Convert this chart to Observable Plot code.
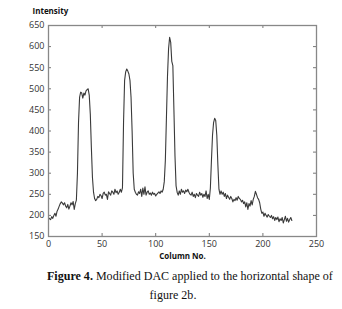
<!DOCTYPE html>
<html><head><meta charset="utf-8">
<script src="https://cdn.jsdelivr.net/npm/d3@7"></script>
<script src="https://cdn.jsdelivr.net/npm/@observablehq/plot@0.6"></script>
<style>
body{margin:0;background:#fff;width:342px;height:309px;overflow:hidden;position:relative}
#cap{position:absolute;left:0;top:267px;width:342px;font-family:"Liberation Serif",serif;font-size:13px;color:#111;line-height:19px}
#cap .l1{position:absolute;left:47px;top:0;white-space:nowrap}
#cap .l2{position:absolute;left:0;width:346px;top:19px;text-align:center;white-space:nowrap}
</style></head>
<body>
<div id="chart"></div>
<div id="cap"><div class="l1" id="l1"><b>Figure 4.</b> Modified DAC applied to the horizontal shape of</div><div class="l2" id="l2">figure 2b.</div></div>
<script>
const intensity = [
195,192,190,197,193,200,205,198,210,215,222,
228,232,229,225,230,222,218,226,215,222,230,225,233,214,228,236,
300,420,480,492,490,478,490,485,495,498,500,485,440,360,290,255,240,235,
238,245,242,250,247,240,252,255,248,250,238,256,252,248,258,255,250,262,254,258,250,255,262,255,265,
420,520,540,547,542,535,520,480,400,300,262,
255,250,248,256,252,262,245,265,250,268,248,255,258,250,253,248,255,250,252,246,250,253,256,252,258,255,262,280,
330,430,530,595,622,610,565,555,450,340,270,
255,248,258,250,262,255,258,252,260,256,262,255,250,248,255,245,250,242,252,248,245,255,248,252,243,250,245,258,240,250,238,265,
330,390,420,430,425,390,320,262,250,
258,250,255,245,252,240,248,243,238,245,240,232,238,235,242,236,245,240,238,232,236,228,232,220,230,214,228,222,235,225,238,245,257,250,242,238,230,215,205,
208,198,205,200,196,202,198,195,200,192,197,188,195,190,196,185,192,188,195,182,190,198,186,193,184,190,195,188
];
const columns = intensity.map((_, i) => i);
const xTicks = [0, 50, 100, 150, 200, 250];
const yTicks = [150, 200, 250, 300, 350, 400, 450, 500, 550, 600, 650];
const data = columns.map((c, i) => ({col: c, val: intensity[i]}));

const W = 342, H = 262, mL = 48, mR = 26, mT = 25, mB = 26;
const fh = H - mT - mB, fw = W - mL - mR;
const tk = 3;
const chart = Plot.plot({
  width: W, height: H,
  marginLeft: mL, marginRight: mR, marginTop: mT, marginBottom: mB,
  style: {fontFamily: "'Open Sans', 'DejaVu Sans', sans-serif", fontSize: "9px", color: "#333", background: "#fff"},
  x: {domain: [0, 250]},
  y: {domain: [150, 650]},
  marks: [
    Plot.axisX(xTicks, {tickSize: 0, tickPadding: 4, fontSize: 9, fill: "#333", label: null}),
    Plot.axisY(yTicks, {tickSize: 0, tickPadding: 4, fontSize: 9, fill: "#333", label: null}),
    Plot.tickX(xTicks, {x: d => d, insetBottom: fh - tk, stroke: "#777"}),
    Plot.tickX(xTicks, {x: d => d, insetTop: fh - tk, stroke: "#777"}),
    Plot.tickY(yTicks, {y: d => d, insetRight: fw - tk, stroke: "#777"}),
    Plot.tickY(yTicks, {y: d => d, insetLeft: fw - tk, stroke: "#777"}),
    Plot.line(data, {x: "col", y: "val", stroke: "#3a3a3a", strokeWidth: 1.1}),
    Plot.frame({stroke: "#888", strokeWidth: 1.3}),
    Plot.text(["Intensity"], {frameAnchor: "top-left", dx: -16, dy: -17, textAnchor: "start", fontWeight: "bold", fontSize: 8, fill: "#111"}),
    Plot.text(["Column No."], {frameAnchor: "bottom", dy: 22, fontWeight: "bold", fontSize: 8, fill: "#111"})
  ]
});
document.getElementById("chart").appendChild(chart);
// fit the first caption line to the reference width
const l1 = document.getElementById("l1");
const w = l1.getBoundingClientRect().width;
if (w > 0) {
  const fs = 13 * 286 / w;
  document.getElementById("cap").style.fontSize = fs.toFixed(2) + "px";
}
</script>
</body></html>
